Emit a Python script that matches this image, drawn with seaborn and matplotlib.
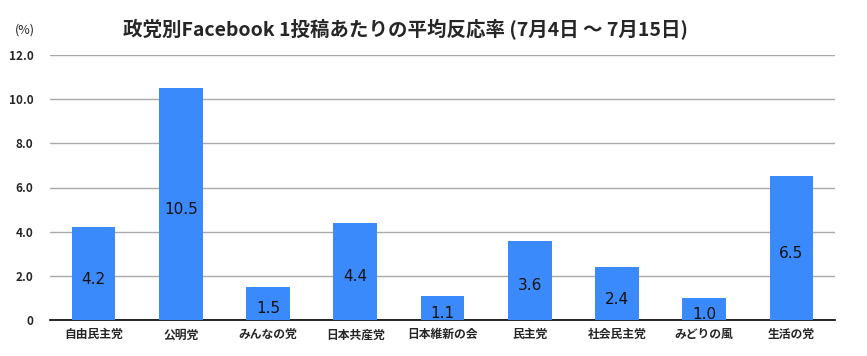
import numpy as np
import pandas as pd
import matplotlib
matplotlib.use('Agg')
import matplotlib.pyplot as plt
import seaborn as sns

parties = ['自由民主党', '公明党', 'みんなの党', '日本共産党', '日本維新の会',
           '民主党', '社会民主党', 'みどりの風', '生活の党']
rates = [4.2, 10.5, 1.5, 4.4, 1.1, 3.6, 2.4, 1.0, 6.5]
yticks = [0, 2, 4, 6, 8, 10, 12]
ytick_labels = ['0', '2.0', '4.0', '6.0', '8.0', '10.0', '12.0']

df = pd.DataFrame({'party': parties, 'rate': rates})

sns.set_style('white')
plt.rcParams['font.family'] = ['Noto Sans CJK JP', 'DejaVu Sans']

fig = plt.figure(figsize=(8.67, 3.56), dpi=100)
ax = fig.add_axes([50/867, 1-320/356, 785/867, 265/356])

sns.barplot(data=df, x='party', y='rate', color='#3a8afc', saturation=1,
            width=0.5, ax=ax, zorder=3, linewidth=0, edgecolor='none')

ax.set_ylim(0, 12)
ax.set_xlim(-0.5, len(parties)-0.5)
ax.set_yticks(yticks)
ax.set_yticklabels(ytick_labels, fontsize=8.5, fontweight='bold')
ax.yaxis.grid(True, color='#aaaaaa', linewidth=1, zorder=0)
ax.set_axisbelow(True)
ax.tick_params(axis='y', length=0, pad=12)
ax.tick_params(axis='x', length=0, pad=6, labelsize=8.5)
for t in ax.get_xticklabels():
    t.set_fontweight('bold')
ax.set_xlabel('')
ax.set_ylabel('')
for s in ['top', 'right', 'left']:
    ax.spines[s].set_visible(False)
ax.spines['bottom'].set_color('black')
ax.spines['bottom'].set_linewidth(1.2)

for i, v in enumerate(rates):
    ax.text(i, v/2 - 0.25, f'{v:.1f}', ha='center', va='center', fontsize=11,
            color='#111111', zorder=4, family='DejaVu Sans')

fig.text(405/867, 1-30/356, '政党別Facebook 1投稿あたりの平均反応率 (7月4日 〜 7月15日)',
         ha='center', va='center', fontsize=14, fontweight='bold')
fig.text(25/867, 1-30/356, '(%)', ha='center', va='center', fontsize=9)

fig.savefig('out.png', dpi=100)
